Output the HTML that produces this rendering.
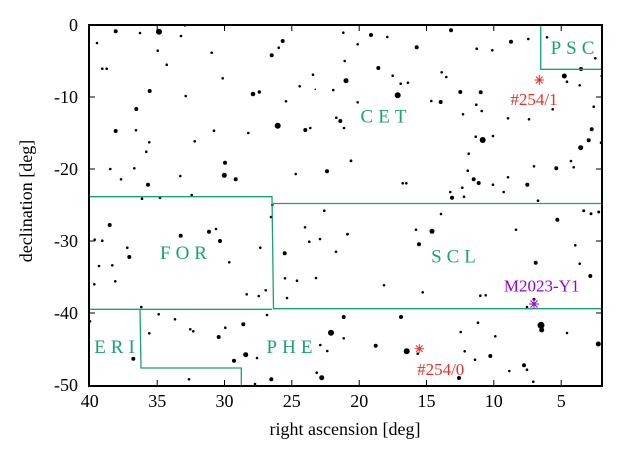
<!DOCTYPE html>
<html><head><meta charset="utf-8"><style>
html,body{margin:0;padding:0;background:#fff;}
svg{display:block;font-family:"Liberation Serif",serif;}
</style></head><body>
<svg width="626" height="452" viewBox="0 0 626 452" xmlns="http://www.w3.org/2000/svg">
<rect width="626" height="452" fill="#fff"/>
<g fill="#000">
<circle cx="115.7" cy="31.3" r="2"/><circle cx="140" cy="33" r="1.3"/><circle cx="159" cy="31.7" r="3"/><circle cx="181" cy="36" r="1.3"/><circle cx="185" cy="25.7" r="1"/>
<circle cx="97" cy="43" r="1.3"/><circle cx="157.7" cy="50.7" r="1.3"/><circle cx="211.7" cy="52.7" r="1.3"/><circle cx="282.7" cy="41" r="2"/><circle cx="278.7" cy="47.7" r="1.3"/><circle cx="271.7" cy="55.3" r="2"/><circle cx="343.3" cy="32.7" r="1.3"/>
<circle cx="166.7" cy="64.7" r="1.3"/><circle cx="102.3" cy="68.7" r="1.3"/><circle cx="106.7" cy="68.7" r="1.3"/><circle cx="222.7" cy="78.3" r="1.3"/><circle cx="313" cy="74.7" r="1.3"/><circle cx="344.7" cy="61" r="1.3"/><circle cx="346" cy="80.7" r="2.5"/>
<circle cx="299.7" cy="86.3" r="1.3"/><circle cx="315.3" cy="89.3" r="0.8"/><circle cx="333.3" cy="90" r="1.3"/><circle cx="149.7" cy="91" r="2"/><circle cx="185.7" cy="96" r="1.3"/><circle cx="253" cy="94" r="2.3"/><circle cx="259.3" cy="92" r="1.7"/><circle cx="286" cy="101.3" r="1.3"/>
<circle cx="136.3" cy="109" r="2"/><circle cx="336.3" cy="117.7" r="1.3"/><circle cx="340.3" cy="121" r="2"/><circle cx="344" cy="128" r="1.3"/><circle cx="277.7" cy="125.7" r="3"/><circle cx="305.3" cy="130" r="2"/><circle cx="310.3" cy="128" r="1.3"/>
<circle cx="115.7" cy="131" r="2"/><circle cx="136" cy="130.3" r="1.3"/><circle cx="214" cy="130.7" r="1.3"/><circle cx="248.3" cy="133" r="1.3"/><circle cx="149.3" cy="142.3" r="1.3"/><circle cx="194.7" cy="141.3" r="1.3"/><circle cx="146.3" cy="151.7" r="1.3"/>
<circle cx="225" cy="162.7" r="2"/><circle cx="110.3" cy="169" r="1.3"/><circle cx="134.3" cy="168.3" r="1.3"/><circle cx="224.3" cy="175.3" r="2.5"/><circle cx="235.7" cy="179.3" r="2"/><circle cx="295.7" cy="174" r="1.3"/><circle cx="327" cy="171.3" r="2"/><circle cx="351" cy="160.7" r="1.3"/>
<circle cx="121" cy="179.3" r="1.3"/><circle cx="180.3" cy="176" r="1.3"/><circle cx="148" cy="184.7" r="2"/><circle cx="142" cy="198.7" r="1.3"/><circle cx="160" cy="197.7" r="1.3"/><circle cx="191.7" cy="195" r="1.3"/>
<circle cx="371" cy="35" r="2"/><circle cx="387.3" cy="37" r="1.3"/><circle cx="451" cy="30.3" r="2"/><circle cx="357.7" cy="44.3" r="1.3"/><circle cx="416.7" cy="47.3" r="2"/><circle cx="476.7" cy="48.7" r="1.3"/><circle cx="492.3" cy="50.3" r="1.3"/><circle cx="511" cy="41.7" r="2"/><circle cx="528.3" cy="39" r="1.3"/><circle cx="547" cy="37.3" r="1.3"/><circle cx="595.3" cy="58.3" r="1.3"/><circle cx="581" cy="69" r="2"/><circle cx="564.3" cy="76" r="2.5"/><circle cx="567" cy="81.7" r="1.3"/><circle cx="579.7" cy="85.3" r="1.3"/><circle cx="601.7" cy="76" r="1.3"/>
<circle cx="378.3" cy="68" r="2"/><circle cx="392.7" cy="75.7" r="1.3"/><circle cx="400.7" cy="83.7" r="1.3"/><circle cx="408" cy="82.7" r="1.3"/><circle cx="441.7" cy="72.3" r="1.3"/><circle cx="446.3" cy="77" r="1.3"/><circle cx="397.7" cy="95.3" r="3"/><circle cx="357.7" cy="102.3" r="1.3"/><circle cx="431.3" cy="101" r="1.3"/><circle cx="440.7" cy="102" r="2"/><circle cx="460.3" cy="92" r="2"/><circle cx="480.7" cy="92.3" r="2"/><circle cx="476.3" cy="104.7" r="1.3"/><circle cx="481.7" cy="111" r="1.3"/><circle cx="463" cy="114.3" r="1.3"/><circle cx="508" cy="118.3" r="1.3"/><circle cx="529" cy="119.3" r="1.3"/><circle cx="552.7" cy="109.3" r="1.3"/><circle cx="593.7" cy="106.7" r="1.3"/>
<circle cx="591.7" cy="129.3" r="2"/><circle cx="588.7" cy="140.3" r="2"/><circle cx="601" cy="142.7" r="1.3"/><circle cx="580.7" cy="147.7" r="2.5"/><circle cx="475.7" cy="136.7" r="1.3"/><circle cx="482.7" cy="140" r="3"/><circle cx="493" cy="136" r="1.3"/><circle cx="468.7" cy="153.7" r="1.3"/><circle cx="351" cy="161" r="1.3"/><circle cx="571" cy="161" r="1.3"/><circle cx="573.7" cy="167.3" r="1.3"/><circle cx="556.3" cy="168.3" r="2"/><circle cx="534" cy="166.3" r="1.3"/><circle cx="467.7" cy="170.7" r="1.3"/><circle cx="508" cy="177.3" r="1.3"/><circle cx="473.7" cy="179.3" r="2"/><circle cx="478.7" cy="183" r="2"/><circle cx="493" cy="184.7" r="1.3"/><circle cx="527.3" cy="184.7" r="2"/><circle cx="402.7" cy="183.3" r="1.3"/><circle cx="406.3" cy="183.3" r="1.3"/><circle cx="462.3" cy="187.7" r="1.3"/><circle cx="450.3" cy="192" r="1.3"/><circle cx="452" cy="197.7" r="2"/><circle cx="464" cy="196.7" r="1.3"/><circle cx="503.7" cy="192" r="1.3"/><circle cx="538" cy="200.7" r="1.3"/>
<circle cx="109.7" cy="225" r="2"/><circle cx="94.7" cy="239.7" r="1.3"/><circle cx="102.3" cy="240.7" r="1.3"/><circle cx="127.3" cy="247.7" r="1.3"/><circle cx="129.3" cy="257" r="2"/><circle cx="99" cy="266" r="1.3"/><circle cx="112.3" cy="265.3" r="1.3"/><circle cx="94.3" cy="284.3" r="1.3"/><circle cx="115.3" cy="281.3" r="1.3"/>
<circle cx="180.7" cy="235.7" r="2"/><circle cx="209" cy="231.7" r="2"/><circle cx="216" cy="229" r="1.3"/><circle cx="220" cy="241" r="2"/><circle cx="229.3" cy="262.3" r="1.3"/><circle cx="260.3" cy="247.7" r="1.3"/><circle cx="271" cy="217" r="1.3"/><circle cx="272.3" cy="205" r="1.3"/><circle cx="246.7" cy="294.3" r="1.3"/><circle cx="258.7" cy="296" r="1.3"/><circle cx="265.7" cy="290.3" r="1.3"/><circle cx="141.3" cy="307" r="1.3"/>
<circle cx="284.7" cy="253.3" r="2"/><circle cx="305" cy="227.3" r="1.3"/><circle cx="309.3" cy="241.7" r="1.3"/><circle cx="320" cy="239" r="1.3"/><circle cx="324.3" cy="210.7" r="1.3"/><circle cx="336" cy="251.7" r="1.3"/><circle cx="347.3" cy="234.3" r="1.3"/><circle cx="285" cy="278.3" r="1.3"/><circle cx="297" cy="280.7" r="1.3"/><circle cx="316" cy="278" r="1.3"/><circle cx="287" cy="298" r="1.3"/>
<circle cx="90" cy="321.3" r="1.3"/><circle cx="158.7" cy="314.3" r="1.3"/><circle cx="175" cy="319.3" r="1.3"/><circle cx="149.3" cy="333.3" r="1.3"/><circle cx="190.3" cy="329.3" r="1.3"/><circle cx="193.3" cy="331.3" r="1.3"/><circle cx="218.7" cy="337" r="2"/><circle cx="225.3" cy="327.7" r="1.3"/><circle cx="243.3" cy="324.3" r="2"/><circle cx="267" cy="315" r="1.3"/><circle cx="343.7" cy="317" r="2"/><circle cx="331" cy="332.7" r="3"/><circle cx="343.7" cy="338.3" r="1.3"/><circle cx="133.3" cy="358.7" r="2"/><circle cx="234" cy="360.7" r="2"/><circle cx="245.7" cy="354.7" r="2.5"/><circle cx="257" cy="358" r="1.3"/><circle cx="320.3" cy="345" r="1.3"/><circle cx="327.3" cy="351" r="1.3"/><circle cx="316.7" cy="372.7" r="1.3"/><circle cx="321.7" cy="377.7" r="2.5"/><circle cx="271.3" cy="379.3" r="2"/><circle cx="189" cy="379.3" r="1.3"/><circle cx="255" cy="384" r="1.3"/>
<circle cx="583.7" cy="210.7" r="1.5"/><circle cx="591" cy="213.7" r="1.5"/><circle cx="598.7" cy="212" r="1.5"/><circle cx="441" cy="214" r="1.3"/><circle cx="557.3" cy="219.7" r="2"/><circle cx="347.7" cy="234" r="1.3"/><circle cx="416" cy="229.7" r="1.3"/><circle cx="432" cy="231.3" r="2.5"/><circle cx="516" cy="229.7" r="1.3"/><circle cx="419" cy="244.3" r="2"/><circle cx="575.3" cy="245.3" r="1.3"/><circle cx="535.7" cy="262.7" r="2"/><circle cx="579.7" cy="263.7" r="1.3"/><circle cx="590.3" cy="276" r="2"/><circle cx="384" cy="285.3" r="1.3"/><circle cx="422.7" cy="292.3" r="1.3"/><circle cx="480.3" cy="295.7" r="1.3"/><circle cx="485.7" cy="295.3" r="1.3"/><circle cx="534" cy="299.3" r="1.5"/><circle cx="527" cy="307" r="1.3"/>
<circle cx="401" cy="317" r="2"/><circle cx="478" cy="322.7" r="1.3"/><circle cx="460.7" cy="332" r="1.3"/><circle cx="541" cy="325.3" r="3.5"/><circle cx="541.7" cy="330" r="2.5"/><circle cx="567" cy="333" r="1.3"/><circle cx="598.3" cy="344" r="2.5"/><circle cx="495.3" cy="336.3" r="1.3"/><circle cx="375.7" cy="345.7" r="2"/><circle cx="406.7" cy="351.3" r="3"/><circle cx="417.7" cy="353.7" r="1.3"/><circle cx="464.7" cy="351.3" r="1.3"/><circle cx="490.3" cy="356" r="2"/><circle cx="475" cy="359.7" r="1.3"/><circle cx="524" cy="365.3" r="2"/><circle cx="527" cy="369.7" r="1.3"/><circle cx="509.3" cy="371" r="1.3"/><circle cx="459" cy="378" r="2"/><circle cx="533.3" cy="381.7" r="1.3"/>
</g>
<g fill="none" stroke="#1aa07a" stroke-width="1.3">
<polyline points="89,196.7 272,196.7 273.5,308.7 602,308.7"/>
<polyline points="273,203.5 602,203.5"/>
<polyline points="89,309.3 272,309.3"/>
<polyline points="140,309.3 141,368 241.3,368 241.3,386"/>
<polyline points="540.7,25 540.7,69.3 602,69.3"/>
</g>
<g font-size="19" fill="#1aa07a" letter-spacing="5" text-anchor="middle">
<text x="386" y="122.7">CET</text>
<text x="575" y="54">PSC</text>
<text x="186" y="259">FOR</text>
<text x="456" y="262.7">SCL</text>
<text x="117" y="353">ERI</text>
<text x="292" y="353">PHE</text>
</g>
<g stroke="#e8302a" stroke-width="1">
<path d="M539.3 75v10M534.5 80h9.6M535.9 76.6l6.8 6.8M535.9 83.4l6.8-6.8"/>
<path d="M419.3 344v9.4M414.6 348.7h9.4M416 345.4l6.6 6.6M416 352l6.6-6.6"/>
</g>
<g stroke="#9400d3" stroke-width="1">
<path d="M534 299v10M529 304h10M530.5 300.5l7 7M530.5 307.5l7-7"/>
</g>
<g font-size="17" text-anchor="middle">
<text x="534" y="105" fill="#e8302a">#254/1</text>
<text x="440.7" y="375" fill="#e8302a">#254/0</text>
<text x="541.7" y="291.7" fill="#9400d3">M2023-Y1</text>
</g>
<g stroke="#000" stroke-width="1">
<path d="M157.2 25v6M224.5 25v6M291.8 25v6M359.2 25v6M426.5 25v6M493.8 25v6M561.2 25v6"/>
<path d="M157.2 386v-6M224.5 386v-6M291.8 386v-6M359.2 386v-6M426.5 386v-6M493.8 386v-6M561.2 386v-6"/>
<path d="M89 97h6M89 169h6M89 241h6M89 313h6M602 97h-6M602 169h-6M602 241h-6M602 313h-6"/>
</g>
<rect x="89" y="25" width="513" height="361" fill="none" stroke="#000" stroke-width="2"/>
<g font-size="18" text-anchor="end">
<text x="78" y="31">0</text>
<text x="78" y="103">-10</text>
<text x="78" y="175">-20</text>
<text x="78" y="247">-30</text>
<text x="78" y="319">-40</text>
<text x="78" y="391">-50</text>
</g>
<g font-size="18" text-anchor="middle">
<text x="89.8" y="407">40</text>
<text x="157.2" y="407">35</text>
<text x="224.5" y="407">30</text>
<text x="291.8" y="407">25</text>
<text x="359.2" y="407">20</text>
<text x="426.5" y="407">15</text>
<text x="493.8" y="407">10</text>
<text x="561.2" y="407">5</text>
<text x="345" y="435">right ascension [deg]</text>
<text transform="translate(32,201) rotate(-90)">declination [deg]</text>
</g>
</svg>
</body></html>
